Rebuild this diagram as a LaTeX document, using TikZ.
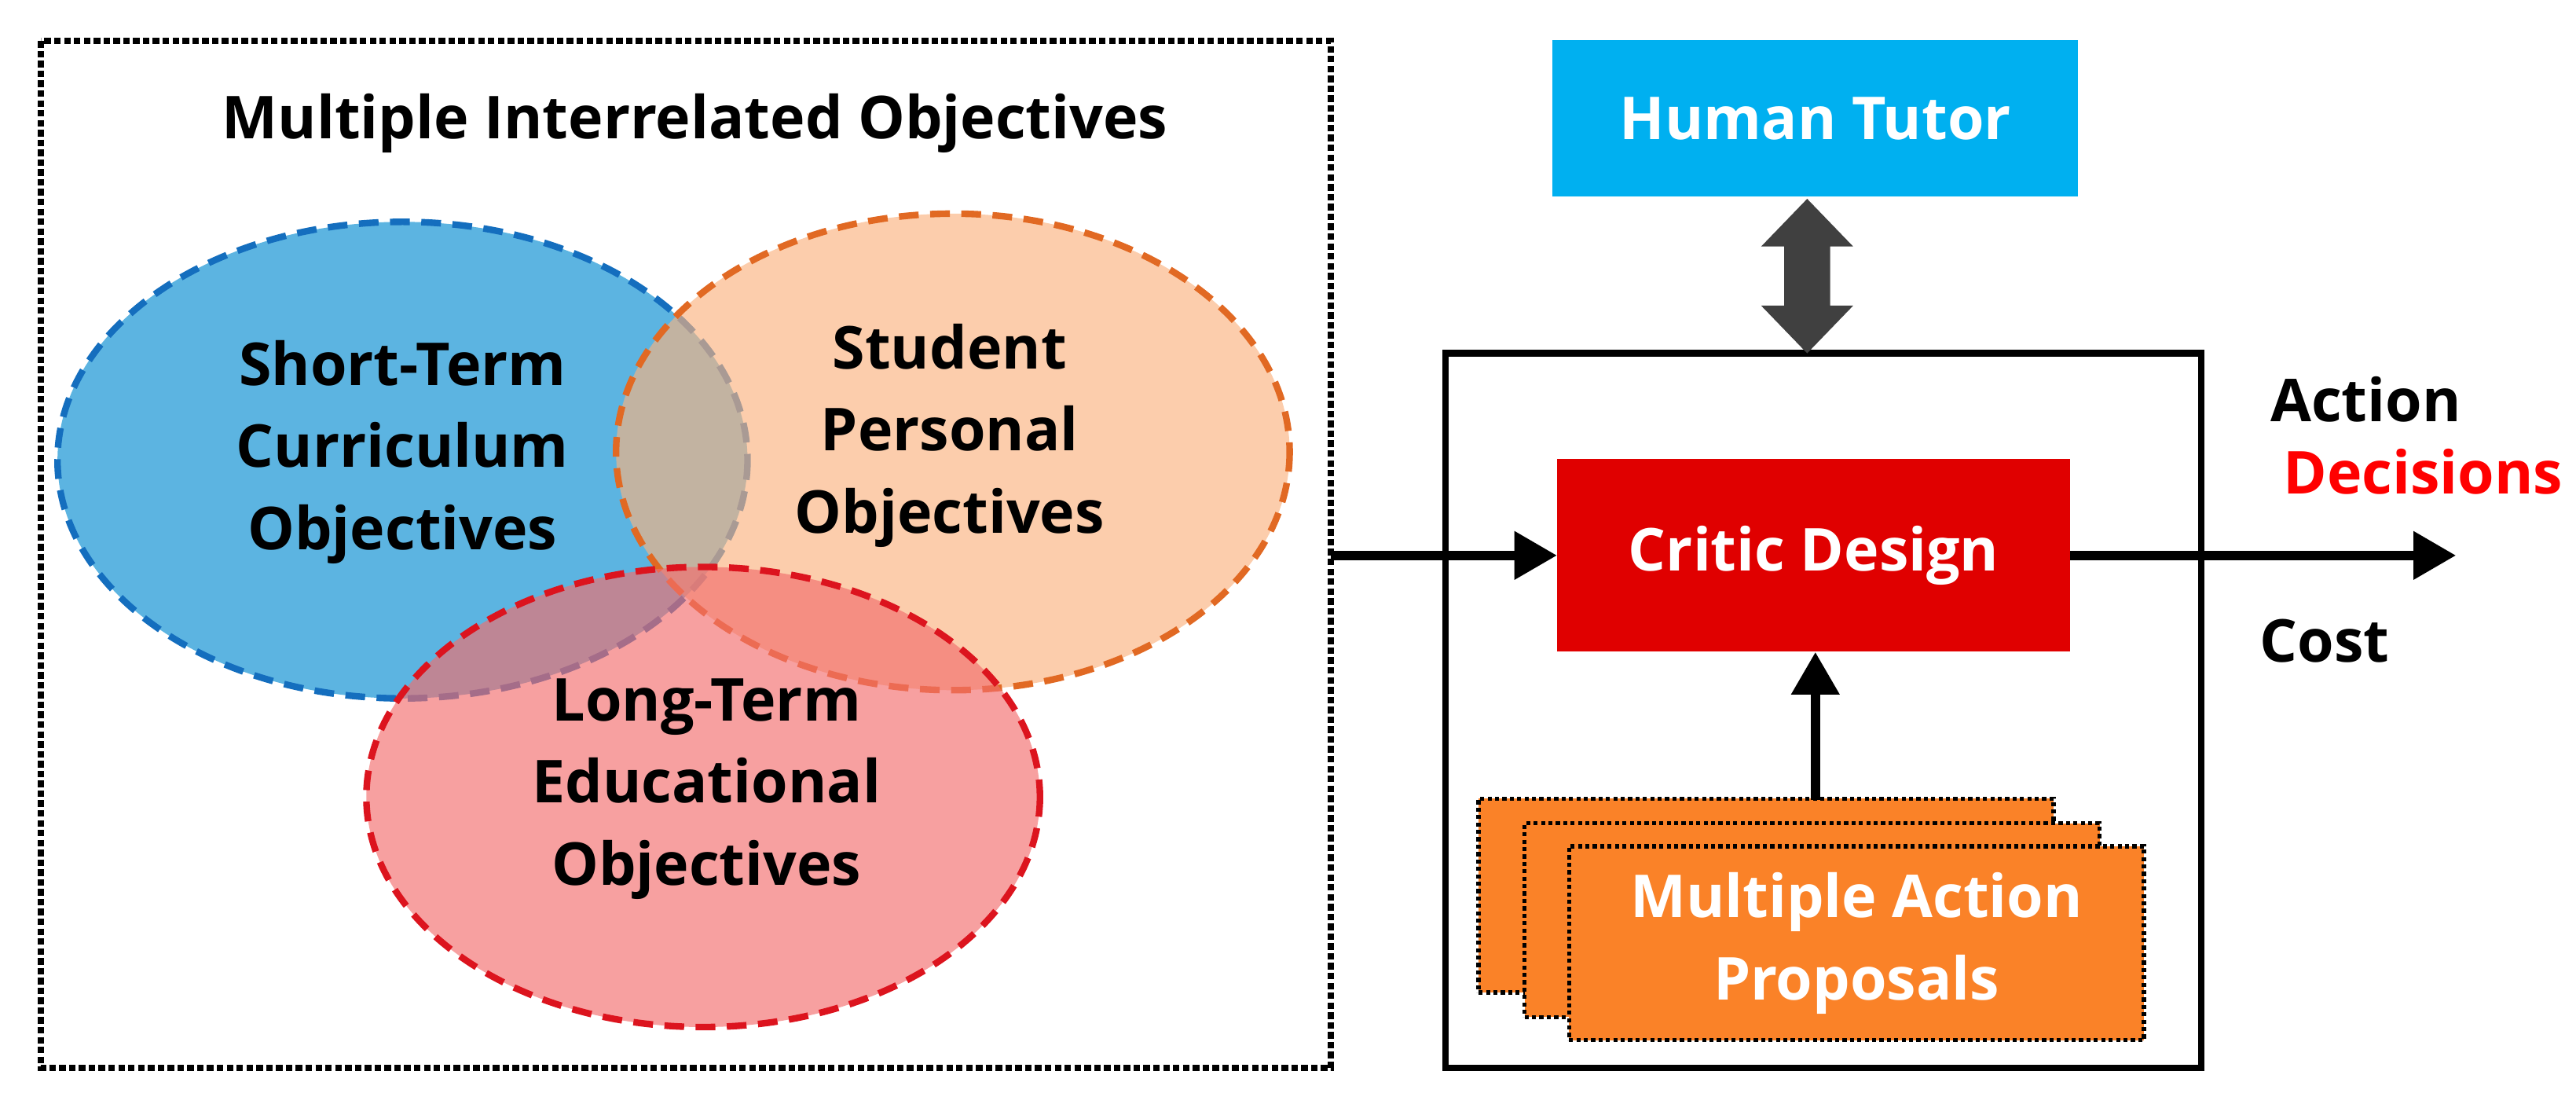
\documentclass[tikz,border=0pt]{standalone}
\usepackage{fontspec}
\setmainfont{Open Sans}
\usetikzlibrary{arrows.meta}
\definecolor{cblue}{RGB}{5,140,209}
\definecolor{cbluel}{RGB}{20,110,190}
\definecolor{corange}{RGB}{250,178,127}
\definecolor{corangel}{RGB}{225,105,35}
\definecolor{cred}{RGB}{243,109,109}
\definecolor{credl}{RGB}{220,20,30}
\definecolor{tutor}{RGB}{0,176,240}
\definecolor{critic}{RGB}{224,0,0}
\definecolor{prop}{RGB}{250,130,40}
\tikzset{
 txt/.style={font=\fontsize{36}{50}\selectfont\bfseries, align=center},
 ell/.style={line width=4pt, dash pattern=on 12pt off 7pt, fill opacity=0.65},
 arr/.style={line width=6pt, -{Triangle[length=26pt,width=28pt]}},
 pbox/.style={fill=prop, draw=black, line width=2.5pt, dotted, minimum width=350pt, minimum height=118pt}
}
\begin{document}
\begin{tikzpicture}[x=1pt,y=-1pt]
\useasboundingbox (0,0) rectangle (1568,674);
\draw[line width=4pt, dotted] (25,25) rectangle (810,650);
\node[txt] (title) at (423,75) {Multiple Interrelated Objectives};
\draw[ell, fill=cblue, draw=cbluel] (245,280) ellipse [x radius=210, y radius=145];
\draw[ell, fill=corange, draw=corangel] (580,275) ellipse [x radius=205, y radius=145];
\draw[ell, fill=cred, draw=credl] (428,485) ellipse [x radius=205, y radius=140];
\node[txt] (st) at (245,275) {Short-Term\\Curriculum\\Objectives};
\node[txt] (sp) at (578,265) {Student\\Personal\\Objectives};
\node[txt] (lt) at (430,480) {Long-Term\\Educational\\Objectives};
\node[txt, fill=tutor, text=white, minimum width=320pt, minimum height=95pt] (tutor) at (1105,72) {Human Tutor};
\draw[line width=4pt] (880,215) rectangle (1340,650);
\fill[black!75] (1100,121) -- (1128,150) -- (1114,150) -- (1114,186) -- (1128,186) -- (1100,215)
  -- (1072,186) -- (1086,186) -- (1086,150) -- (1072,150) -- cycle;
\node[txt, fill=critic, text=white, minimum width=312pt, minimum height=117pt] (critic) at (1104,338) {Critic Design};
\node[pbox] (p1) at (1075,545) {};
\node[pbox] (p2) at (1103,560) {};
\node[pbox] (p3) at (1130,574) {};
\node[txt, text=white] (ptxt) at (1130,574) {Multiple Action\\Proposals};
\coordinate (left) at (810,338);
\coordinate (right) at (1495,338);
\draw[arr] (left) -- (critic.west);
\draw[arr] (critic.east) -- (right);
\draw[arr] (1105,487) -- (critic.south -| 1105,0);
\node[txt] (action) at (1440,243) {Action};
\node[txt, text=red] (dec) at (1475,287) {Decisions};
\node[txt] (cost) at (1415,390) {Cost};
\end{tikzpicture}
\end{document}
